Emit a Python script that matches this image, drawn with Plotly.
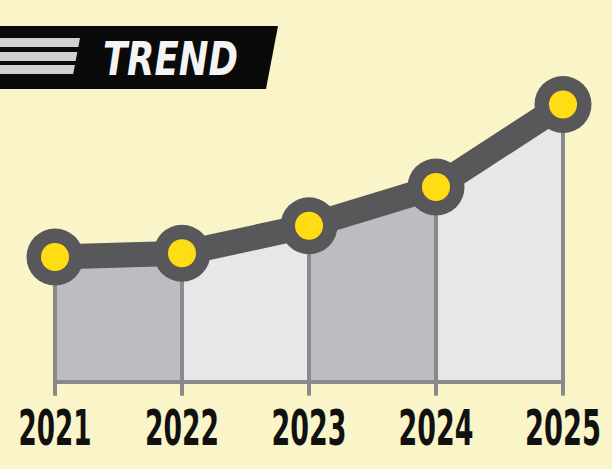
import plotly.graph_objects as go

# data
years = [2021, 2022, 2023, 2024, 2025]
values = [100, 103, 125, 156, 222]
year_labels = ["2021", "2022", "2023", "2024", "2025"]
title_text = "TREND"

W, H = 612, 469
BG = "#faf4c9"
LINE = "#58585a"
YELLOW = "#ffdd15"
STEM = "#8a8a8c"
FILL_DARK = "#bcbdc0"
FILL_LIGHT = "#e6e7e8"
FONT = "DejaVu Sans Condensed, DejaVu Sans, sans-serif"


def px_x(p):
    return p / W


def px_y(p):
    return 1 - p / H


fig = go.Figure()

# alternating area segments under the line
for i in range(len(years) - 1):
    fig.add_trace(
        go.Scatter(
            x=years[i:i + 2],
            y=values[i:i + 2],
            mode="lines",
            line={"width": 0},
            fill="tozeroy",
            fillcolor=FILL_DARK if i % 2 == 0 else FILL_LIGHT,
            hoverinfo="skip",
        )
    )

# vertical stems with small ticks below the baseline
stem_x, stem_y = [], []
for x, v in zip(years, values):
    stem_x += [x, x, None]
    stem_y += [-11, v, None]
fig.add_trace(
    go.Scatter(x=stem_x, y=stem_y, mode="lines", line={"color": STEM, "width": 4},
               hoverinfo="skip")
)
# baseline
fig.add_trace(
    go.Scatter(x=[years[0], years[-1]], y=[0, 0], mode="lines",
               line={"color": STEM, "width": 4}, hoverinfo="skip")
)

# main line + big dark markers
fig.add_trace(
    go.Scatter(
        x=years, y=values, mode="lines+markers",
        line={"color": LINE, "width": 25},
        marker={"size": 57, "color": LINE},
        hoverinfo="skip",
    )
)
# yellow centers
fig.add_trace(
    go.Scatter(x=years, y=values, mode="markers",
               marker={"size": 28, "color": YELLOW}, hoverinfo="skip")
)

# year labels
fig.add_trace(
    go.Scatter(
        x=years, y=[-40] * len(years), mode="text", text=year_labels,
        textposition="middle center",
        textfont={"family": FONT, "size": 50, "color": "#111111", "weight": "bold"},
        hoverinfo="skip",
    )
)

# header band
band = (f"M 0 {px_y(26)} L {px_x(278)} {px_y(26)} L {px_x(266)} {px_y(89)} "
        f"L 0 {px_y(89)} Z")
shapes = [dict(type="path", path=band, xref="paper", yref="paper",
               fillcolor="#0a0a0a", line={"width": 0})]
for top, bot in [(38, 47), (52, 61), (65, 74)]:
    x_top = 80 - (top - 38) * 0.19
    x_bot = x_top - (bot - top) * 0.19
    p = (f"M 0 {px_y(top)} L {px_x(x_top)} {px_y(top)} L {px_x(x_bot)} {px_y(bot)} "
         f"L 0 {px_y(bot)} Z")
    shapes.append(dict(type="path", path=p, xref="paper", yref="paper",
                       fillcolor="#cfd0d2", line={"width": 0}))

fig.update_layout(
    width=W, height=H,
    margin={"l": 0, "r": 0, "t": 0, "b": 0},
    paper_bgcolor=BG, plot_bgcolor=BG,
    showlegend=False,
    hovermode=False,
    shapes=shapes,
    annotations=[dict(
        text=title_text, x=px_x(170), y=px_y(58),
        xref="paper", yref="paper", showarrow=False,
        xanchor="center", yanchor="middle",
        font={"family": FONT, "size": 47, "color": "#f4f4f4",
              "weight": "bold", "style": "italic"},
    )],
)
fig.update_xaxes(range=[2021 - 55 / 127, 2021 + 557 / 127], visible=False, fixedrange=True)
fig.update_yaxes(range=[-69.6, -69.6 + H / 1.25], visible=False, fixedrange=True)

# no page margin, and squeeze the condensed labels to the reference widths
post_js = """
document.body.style.margin = '0';
var widths = {'2021': 73, '2022': 74, '2023': 75, '2024': 75, '2025': 76, 'TREND': 135};
document.querySelectorAll('.textpoint text, text.annotation-text').forEach(function (t) {
    var w = widths[t.textContent.trim()];
    if (w) {
        t.setAttribute('textLength', w);
        t.setAttribute('lengthAdjust', 'spacingAndGlyphs');
    }
});
"""
fig.write_html("out.html", post_script=post_js, config={"displayModeBar": False})
